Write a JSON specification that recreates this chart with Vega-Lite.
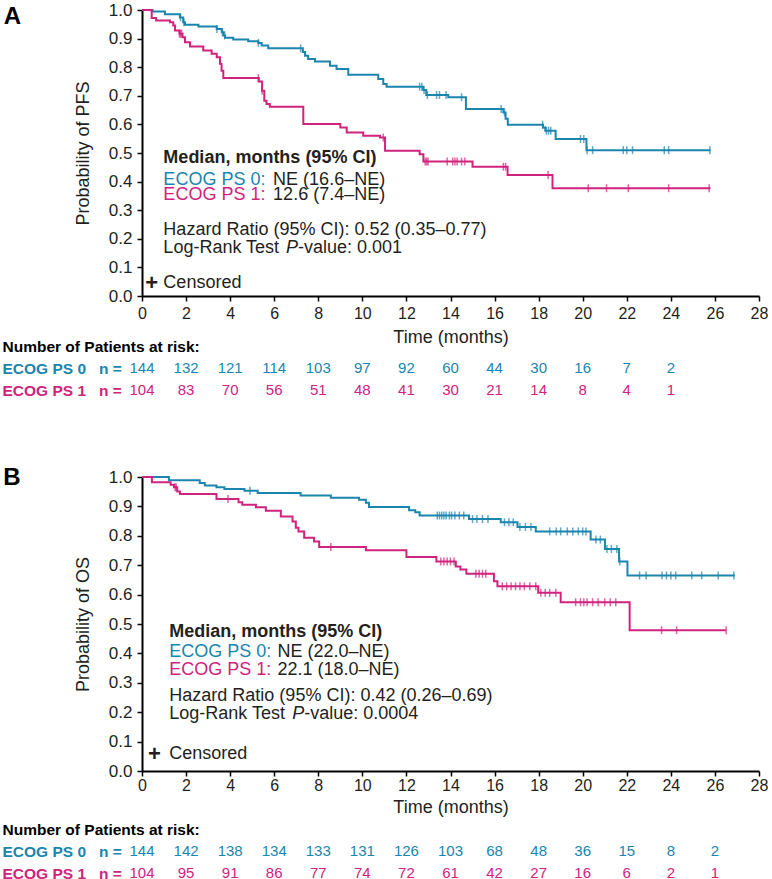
{
  "$schema": "https://vega.github.io/schema/vega-lite/v6.json",
  "background": "white",
  "padding": {"left": 2, "top": 1, "right": 5, "bottom": 0},
  "config": {"view": {"stroke": null}, "font": "Liberation Sans"},
  "datasets": {
    "pfs": [
      {"g":"ECOG PS 0","t":0,"s":1},{"g":"ECOG PS 0","t":0.48,"s":0.995},{"g":"ECOG PS 0","t":1.04,"s":0.985},{"g":"ECOG PS 0","t":1.72,"s":0.974},{"g":"ECOG PS 0","t":1.87,"s":0.957},{"g":"ECOG PS 0","t":1.95,"s":0.948},{"g":"ECOG PS 0","t":2.56,"s":0.942},{"g":"ECOG PS 0","t":3.39,"s":0.934},{"g":"ECOG PS 0","t":3.62,"s":0.922},{"g":"ECOG PS 0","t":3.7,"s":0.911},{"g":"ECOG PS 0","t":3.77,"s":0.903},{"g":"ECOG PS 0","t":4.14,"s":0.897},{"g":"ECOG PS 0","t":4.82,"s":0.891},{"g":"ECOG PS 0","t":5.28,"s":0.885},{"g":"ECOG PS 0","t":5.43,"s":0.876},{"g":"ECOG PS 0","t":5.73,"s":0.866},{"g":"ECOG PS 0","t":7.3,"s":0.853},{"g":"ECOG PS 0","t":7.4,"s":0.84},{"g":"ECOG PS 0","t":7.54,"s":0.829},{"g":"ECOG PS 0","t":7.85,"s":0.82},{"g":"ECOG PS 0","t":8.53,"s":0.805},{"g":"ECOG PS 0","t":8.83,"s":0.794},{"g":"ECOG PS 0","t":9.36,"s":0.774},{"g":"ECOG PS 0","t":10.72,"s":0.759},{"g":"ECOG PS 0","t":10.95,"s":0.741},{"g":"ECOG PS 0","t":11.1,"s":0.732},{"g":"ECOG PS 0","t":12.76,"s":0.72},{"g":"ECOG PS 0","t":12.9,"s":0.703},{"g":"ECOG PS 0","t":13.9,"s":0.695},{"g":"ECOG PS 0","t":14.7,"s":0.654},{"g":"ECOG PS 0","t":16.4,"s":0.642},{"g":"ECOG PS 0","t":16.5,"s":0.62},{"g":"ECOG PS 0","t":16.6,"s":0.599},{"g":"ECOG PS 0","t":18.2,"s":0.589},{"g":"ECOG PS 0","t":18.3,"s":0.578},{"g":"ECOG PS 0","t":18.77,"s":0.549},{"g":"ECOG PS 0","t":20.17,"s":0.51},{"g":"ECOG PS 0","t":25.8,"s":0.51},
      {"g":"ECOG PS 1","t":0,"s":1},{"g":"ECOG PS 1","t":0.44,"s":0.972},{"g":"ECOG PS 1","t":0.64,"s":0.963},{"g":"ECOG PS 1","t":1.27,"s":0.957},{"g":"ECOG PS 1","t":1.42,"s":0.946},{"g":"ECOG PS 1","t":1.5,"s":0.928},{"g":"ECOG PS 1","t":1.7,"s":0.917},{"g":"ECOG PS 1","t":1.84,"s":0.905},{"g":"ECOG PS 1","t":1.95,"s":0.887},{"g":"ECOG PS 1","t":2.18,"s":0.872},{"g":"ECOG PS 1","t":2.78,"s":0.858},{"g":"ECOG PS 1","t":3.16,"s":0.847},{"g":"ECOG PS 1","t":3.39,"s":0.835},{"g":"ECOG PS 1","t":3.54,"s":0.812},{"g":"ECOG PS 1","t":3.61,"s":0.788},{"g":"ECOG PS 1","t":3.69,"s":0.762},{"g":"ECOG PS 1","t":5.3,"s":0.75},{"g":"ECOG PS 1","t":5.45,"s":0.718},{"g":"ECOG PS 1","t":5.55,"s":0.683},{"g":"ECOG PS 1","t":5.65,"s":0.671},{"g":"ECOG PS 1","t":5.8,"s":0.662},{"g":"ECOG PS 1","t":7.32,"s":0.601},{"g":"ECOG PS 1","t":9.0,"s":0.589},{"g":"ECOG PS 1","t":9.29,"s":0.572},{"g":"ECOG PS 1","t":10.04,"s":0.56},{"g":"ECOG PS 1","t":10.8,"s":0.554},{"g":"ECOG PS 1","t":11.03,"s":0.508},{"g":"ECOG PS 1","t":12.6,"s":0.496},{"g":"ECOG PS 1","t":12.77,"s":0.47},{"g":"ECOG PS 1","t":15.0,"s":0.452},{"g":"ECOG PS 1","t":16.59,"s":0.423},{"g":"ECOG PS 1","t":18.63,"s":0.377},{"g":"ECOG PS 1","t":25.8,"s":0.377}
    ],
    "pfs_cens": [
      {"g":"ECOG PS 0","t":1.75,"s":0.974},{"g":"ECOG PS 0","t":1.9,"s":0.957},{"g":"ECOG PS 0","t":3.4,"s":0.934},{"g":"ECOG PS 0","t":3.65,"s":0.922},{"g":"ECOG PS 0","t":3.75,"s":0.911},{"g":"ECOG PS 0","t":5.28,"s":0.885},{"g":"ECOG PS 0","t":7.2,"s":0.866},{"g":"ECOG PS 0","t":12.6,"s":0.732},{"g":"ECOG PS 0","t":12.7,"s":0.732},{"g":"ECOG PS 0","t":12.8,"s":0.72},{"g":"ECOG PS 0","t":12.95,"s":0.703},{"g":"ECOG PS 0","t":13.37,"s":0.703},{"g":"ECOG PS 0","t":13.5,"s":0.703},{"g":"ECOG PS 0","t":13.8,"s":0.703},{"g":"ECOG PS 0","t":14.5,"s":0.695},{"g":"ECOG PS 0","t":16.3,"s":0.654},{"g":"ECOG PS 0","t":16.45,"s":0.642},{"g":"ECOG PS 0","t":18.18,"s":0.599},{"g":"ECOG PS 0","t":18.35,"s":0.578},{"g":"ECOG PS 0","t":18.45,"s":0.578},{"g":"ECOG PS 0","t":18.55,"s":0.578},{"g":"ECOG PS 0","t":19.9,"s":0.549},{"g":"ECOG PS 0","t":20.05,"s":0.549},{"g":"ECOG PS 0","t":20.2,"s":0.51},{"g":"ECOG PS 0","t":20.45,"s":0.51},{"g":"ECOG PS 0","t":21.84,"s":0.51},{"g":"ECOG PS 0","t":22.0,"s":0.51},{"g":"ECOG PS 0","t":22.26,"s":0.51},{"g":"ECOG PS 0","t":23.7,"s":0.51},{"g":"ECOG PS 0","t":23.9,"s":0.51},{"g":"ECOG PS 0","t":25.77,"s":0.51},
      {"g":"ECOG PS 1","t":1.7,"s":0.917},{"g":"ECOG PS 1","t":1.75,"s":0.917},{"g":"ECOG PS 1","t":1.8,"s":0.917},{"g":"ECOG PS 1","t":5.28,"s":0.762},{"g":"ECOG PS 1","t":5.45,"s":0.718},{"g":"ECOG PS 1","t":10.95,"s":0.554},{"g":"ECOG PS 1","t":12.85,"s":0.47},{"g":"ECOG PS 1","t":12.92,"s":0.47},{"g":"ECOG PS 1","t":12.98,"s":0.47},{"g":"ECOG PS 1","t":13.85,"s":0.47},{"g":"ECOG PS 1","t":14.1,"s":0.47},{"g":"ECOG PS 1","t":14.2,"s":0.47},{"g":"ECOG PS 1","t":14.3,"s":0.47},{"g":"ECOG PS 1","t":14.5,"s":0.47},{"g":"ECOG PS 1","t":14.65,"s":0.47},{"g":"ECOG PS 1","t":16.4,"s":0.452},{"g":"ECOG PS 1","t":16.5,"s":0.452},{"g":"ECOG PS 1","t":18.43,"s":0.423},{"g":"ECOG PS 1","t":20.25,"s":0.377},{"g":"ECOG PS 1","t":21.08,"s":0.377},{"g":"ECOG PS 1","t":22.07,"s":0.377},{"g":"ECOG PS 1","t":23.9,"s":0.377},{"g":"ECOG PS 1","t":25.74,"s":0.377}
    ],
    "os": [
      {"g":"ECOG PS 0","t":0,"s":1},{"g":"ECOG PS 0","t":1.22,"s":0.989},{"g":"ECOG PS 0","t":2.62,"s":0.98},{"g":"ECOG PS 0","t":2.85,"s":0.971},{"g":"ECOG PS 0","t":3.38,"s":0.965},{"g":"ECOG PS 0","t":3.74,"s":0.959},{"g":"ECOG PS 0","t":4.65,"s":0.953},{"g":"ECOG PS 0","t":5.25,"s":0.946},{"g":"ECOG PS 0","t":7.2,"s":0.937},{"g":"ECOG PS 0","t":8.57,"s":0.929},{"g":"ECOG PS 0","t":9.85,"s":0.923},{"g":"ECOG PS 0","t":10.16,"s":0.912},{"g":"ECOG PS 0","t":10.3,"s":0.898},{"g":"ECOG PS 0","t":12.12,"s":0.887},{"g":"ECOG PS 0","t":12.4,"s":0.88},{"g":"ECOG PS 0","t":12.6,"s":0.869},{"g":"ECOG PS 0","t":14.84,"s":0.857},{"g":"ECOG PS 0","t":16.28,"s":0.846},{"g":"ECOG PS 0","t":17.04,"s":0.83},{"g":"ECOG PS 0","t":17.87,"s":0.815},{"g":"ECOG PS 0","t":20.36,"s":0.787},{"g":"ECOG PS 0","t":21.01,"s":0.755},{"g":"ECOG PS 0","t":21.65,"s":0.713},{"g":"ECOG PS 0","t":22.03,"s":0.665},{"g":"ECOG PS 0","t":26.9,"s":0.665},
      {"g":"ECOG PS 1","t":0,"s":1},{"g":"ECOG PS 1","t":0.45,"s":0.982},{"g":"ECOG PS 1","t":1.3,"s":0.974},{"g":"ECOG PS 1","t":1.45,"s":0.965},{"g":"ECOG PS 1","t":1.6,"s":0.951},{"g":"ECOG PS 1","t":1.72,"s":0.942},{"g":"ECOG PS 1","t":3.38,"s":0.925},{"g":"ECOG PS 1","t":4.38,"s":0.914},{"g":"ECOG PS 1","t":4.55,"s":0.906},{"g":"ECOG PS 1","t":5.17,"s":0.897},{"g":"ECOG PS 1","t":5.62,"s":0.885},{"g":"ECOG PS 1","t":6.3,"s":0.866},{"g":"ECOG PS 1","t":6.83,"s":0.849},{"g":"ECOG PS 1","t":6.98,"s":0.827},{"g":"ECOG PS 1","t":7.1,"s":0.815},{"g":"ECOG PS 1","t":7.36,"s":0.793},{"g":"ECOG PS 1","t":7.81,"s":0.781},{"g":"ECOG PS 1","t":8.04,"s":0.762},{"g":"ECOG PS 1","t":10.16,"s":0.751},{"g":"ECOG PS 1","t":12.0,"s":0.728},{"g":"ECOG PS 1","t":13.36,"s":0.713},{"g":"ECOG PS 1","t":14.24,"s":0.696},{"g":"ECOG PS 1","t":14.45,"s":0.685},{"g":"ECOG PS 1","t":14.72,"s":0.671},{"g":"ECOG PS 1","t":15.97,"s":0.645},{"g":"ECOG PS 1","t":16.13,"s":0.628},{"g":"ECOG PS 1","t":17.98,"s":0.606},{"g":"ECOG PS 1","t":19.0,"s":0.574},{"g":"ECOG PS 1","t":22.13,"s":0.479},{"g":"ECOG PS 1","t":26.5,"s":0.479}
    ],
    "os_cens": [
      {"g":"ECOG PS 0","t":4.9,"s":0.953},{"g":"ECOG PS 0","t":13.4,"s":0.869},{"g":"ECOG PS 0","t":13.5,"s":0.869},{"g":"ECOG PS 0","t":13.6,"s":0.869},{"g":"ECOG PS 0","t":13.7,"s":0.869},{"g":"ECOG PS 0","t":13.8,"s":0.869},{"g":"ECOG PS 0","t":13.95,"s":0.869},{"g":"ECOG PS 0","t":14.05,"s":0.869},{"g":"ECOG PS 0","t":14.2,"s":0.869},{"g":"ECOG PS 0","t":14.4,"s":0.869},{"g":"ECOG PS 0","t":14.6,"s":0.869},{"g":"ECOG PS 0","t":15.0,"s":0.857},{"g":"ECOG PS 0","t":15.2,"s":0.857},{"g":"ECOG PS 0","t":15.45,"s":0.857},{"g":"ECOG PS 0","t":15.7,"s":0.857},{"g":"ECOG PS 0","t":16.45,"s":0.846},{"g":"ECOG PS 0","t":16.65,"s":0.846},{"g":"ECOG PS 0","t":16.85,"s":0.846},{"g":"ECOG PS 0","t":17.15,"s":0.83},{"g":"ECOG PS 0","t":17.4,"s":0.83},{"g":"ECOG PS 0","t":17.65,"s":0.83},{"g":"ECOG PS 0","t":18.5,"s":0.815},{"g":"ECOG PS 0","t":18.8,"s":0.815},{"g":"ECOG PS 0","t":19.0,"s":0.815},{"g":"ECOG PS 0","t":19.3,"s":0.815},{"g":"ECOG PS 0","t":19.55,"s":0.815},{"g":"ECOG PS 0","t":19.8,"s":0.815},{"g":"ECOG PS 0","t":20.0,"s":0.815},{"g":"ECOG PS 0","t":20.15,"s":0.815},{"g":"ECOG PS 0","t":20.6,"s":0.787},{"g":"ECOG PS 0","t":20.8,"s":0.787},{"g":"ECOG PS 0","t":21.1,"s":0.755},{"g":"ECOG PS 0","t":21.3,"s":0.755},{"g":"ECOG PS 0","t":21.55,"s":0.755},{"g":"ECOG PS 0","t":21.68,"s":0.713},{"g":"ECOG PS 0","t":22.58,"s":0.665},{"g":"ECOG PS 0","t":22.88,"s":0.665},{"g":"ECOG PS 0","t":23.6,"s":0.665},{"g":"ECOG PS 0","t":23.8,"s":0.665},{"g":"ECOG PS 0","t":24.0,"s":0.665},{"g":"ECOG PS 0","t":24.22,"s":0.665},{"g":"ECOG PS 0","t":24.95,"s":0.665},{"g":"ECOG PS 0","t":25.4,"s":0.665},{"g":"ECOG PS 0","t":26.15,"s":0.665},{"g":"ECOG PS 0","t":26.86,"s":0.665},
      {"g":"ECOG PS 1","t":1.5,"s":0.965},{"g":"ECOG PS 1","t":1.55,"s":0.965},{"g":"ECOG PS 1","t":3.9,"s":0.925},{"g":"ECOG PS 1","t":8.57,"s":0.762},{"g":"ECOG PS 1","t":13.56,"s":0.713},{"g":"ECOG PS 1","t":13.7,"s":0.713},{"g":"ECOG PS 1","t":13.85,"s":0.713},{"g":"ECOG PS 1","t":14.0,"s":0.713},{"g":"ECOG PS 1","t":14.16,"s":0.713},{"g":"ECOG PS 1","t":15.15,"s":0.671},{"g":"ECOG PS 1","t":15.3,"s":0.671},{"g":"ECOG PS 1","t":15.45,"s":0.671},{"g":"ECOG PS 1","t":15.6,"s":0.671},{"g":"ECOG PS 1","t":16.35,"s":0.628},{"g":"ECOG PS 1","t":16.55,"s":0.628},{"g":"ECOG PS 1","t":16.75,"s":0.628},{"g":"ECOG PS 1","t":16.95,"s":0.628},{"g":"ECOG PS 1","t":17.15,"s":0.628},{"g":"ECOG PS 1","t":17.35,"s":0.628},{"g":"ECOG PS 1","t":17.6,"s":0.628},{"g":"ECOG PS 1","t":17.87,"s":0.628},{"g":"ECOG PS 1","t":18.1,"s":0.606},{"g":"ECOG PS 1","t":18.3,"s":0.606},{"g":"ECOG PS 1","t":18.5,"s":0.606},{"g":"ECOG PS 1","t":18.78,"s":0.606},{"g":"ECOG PS 1","t":19.68,"s":0.574},{"g":"ECOG PS 1","t":19.9,"s":0.574},{"g":"ECOG PS 1","t":20.05,"s":0.574},{"g":"ECOG PS 1","t":20.2,"s":0.574},{"g":"ECOG PS 1","t":20.45,"s":0.574},{"g":"ECOG PS 1","t":20.7,"s":0.574},{"g":"ECOG PS 1","t":21.0,"s":0.574},{"g":"ECOG PS 1","t":21.25,"s":0.574},{"g":"ECOG PS 1","t":21.5,"s":0.574},{"g":"ECOG PS 1","t":23.58,"s":0.479},{"g":"ECOG PS 1","t":24.26,"s":0.479},{"g":"ECOG PS 1","t":26.51,"s":0.479}
    ],
    "risk_pfs": [
      {"g":"ECOG PS 0","t":0,"n":144},{"g":"ECOG PS 0","t":2,"n":132},{"g":"ECOG PS 0","t":4,"n":121},{"g":"ECOG PS 0","t":6,"n":114},{"g":"ECOG PS 0","t":8,"n":103},{"g":"ECOG PS 0","t":10,"n":97},{"g":"ECOG PS 0","t":12,"n":92},{"g":"ECOG PS 0","t":14,"n":60},{"g":"ECOG PS 0","t":16,"n":44},{"g":"ECOG PS 0","t":18,"n":30},{"g":"ECOG PS 0","t":20,"n":16},{"g":"ECOG PS 0","t":22,"n":7},{"g":"ECOG PS 0","t":24,"n":2},
      {"g":"ECOG PS 1","t":0,"n":104},{"g":"ECOG PS 1","t":2,"n":83},{"g":"ECOG PS 1","t":4,"n":70},{"g":"ECOG PS 1","t":6,"n":56},{"g":"ECOG PS 1","t":8,"n":51},{"g":"ECOG PS 1","t":10,"n":48},{"g":"ECOG PS 1","t":12,"n":41},{"g":"ECOG PS 1","t":14,"n":30},{"g":"ECOG PS 1","t":16,"n":21},{"g":"ECOG PS 1","t":18,"n":14},{"g":"ECOG PS 1","t":20,"n":8},{"g":"ECOG PS 1","t":22,"n":4},{"g":"ECOG PS 1","t":24,"n":1}
    ],
    "risk_os": [
      {"g":"ECOG PS 0","t":0,"n":144},{"g":"ECOG PS 0","t":2,"n":142},{"g":"ECOG PS 0","t":4,"n":138},{"g":"ECOG PS 0","t":6,"n":134},{"g":"ECOG PS 0","t":8,"n":133},{"g":"ECOG PS 0","t":10,"n":131},{"g":"ECOG PS 0","t":12,"n":126},{"g":"ECOG PS 0","t":14,"n":103},{"g":"ECOG PS 0","t":16,"n":68},{"g":"ECOG PS 0","t":18,"n":48},{"g":"ECOG PS 0","t":20,"n":36},{"g":"ECOG PS 0","t":22,"n":15},{"g":"ECOG PS 0","t":24,"n":8},{"g":"ECOG PS 0","t":26,"n":2},
      {"g":"ECOG PS 1","t":0,"n":104},{"g":"ECOG PS 1","t":2,"n":95},{"g":"ECOG PS 1","t":4,"n":91},{"g":"ECOG PS 1","t":6,"n":86},{"g":"ECOG PS 1","t":8,"n":77},{"g":"ECOG PS 1","t":10,"n":74},{"g":"ECOG PS 1","t":12,"n":72},{"g":"ECOG PS 1","t":14,"n":61},{"g":"ECOG PS 1","t":16,"n":42},{"g":"ECOG PS 1","t":18,"n":27},{"g":"ECOG PS 1","t":20,"n":16},{"g":"ECOG PS 1","t":22,"n":6},{"g":"ECOG PS 1","t":24,"n":2},{"g":"ECOG PS 1","t":26,"n":1}
    ]
  },
  "spacing": 64,
  "vconcat": [
    {
      "spacing": 7,
      "vconcat": [
        {
          "width": 617,
          "height": 286,
          "resolve": {"axis": {"x": "independent", "y": "independent"}},
          "layer": [
            {
              "data": {"name": "pfs"},
              "mark": {"type": "line", "interpolate": "step-after", "strokeWidth": 2},
              "encoding": {
                "x": {"field": "t", "type": "quantitative", "scale": {"domain": [0, 28], "nice": false},
                  "axis": {"values": [0,2,4,6,8,10,12,14,16,18,20,22,24,26,28], "title": null, "labelFontSize": 16, "labelColor": "#231f20", "labelPadding": 4, "labelFlush": false, "labelOverlap": false, "tickSize": 5, "tickWidth": 1.5, "tickColor": "#000", "domainColor": "#000", "domainWidth": 2, "grid": false}},
                "y": {"field": "s", "type": "quantitative", "scale": {"domain": [0, 1], "nice": false},
                  "axis": {"values": [0,0.1,0.2,0.3,0.4,0.5,0.6,0.7,0.8,0.9,1], "format": ".1f", "title": "Probability of PFS", "titleFontSize": 18, "titleFontWeight": "normal", "titleColor": "#231f20", "titlePadding": 16, "labelFontSize": 17, "labelColor": "#231f20", "labelPadding": 5, "labelFlush": false, "labelOverlap": false, "tickSize": 5, "tickWidth": 1.5, "tickColor": "#000", "domainColor": "#000", "domainWidth": 2, "grid": false}},
                "color": {"field": "g", "type": "nominal", "scale": {"domain": ["ECOG PS 0", "ECOG PS 1"], "range": ["#1b85ae", "#d0237e"]}, "legend": null}
              }
            },
            {
              "data": {"name": "pfs_cens"},
              "mark": {"type": "tick", "orient": "vertical", "size": 8, "thickness": 1.5},
              "encoding": {
                "x": {"field": "t", "type": "quantitative", "axis": null},
                "y": {"field": "s", "type": "quantitative", "axis": null},
                "color": {"field": "g", "type": "nominal", "legend": null}
              }
            },
            {"data": {"values": [{}]}, "mark": {"type": "text", "text": "A", "fontSize": 24, "fontWeight": "bold", "color": "#000", "align": "center", "baseline": "middle"}, "encoding": {"x": {"datum": -5.88, "axis": null}, "y": {"datum": 0.977, "axis": null}}},
            {"data": {"values": [{}]}, "mark": {"type": "text", "text": "Median, months (95% CI)", "fontSize": 18, "fontWeight": "bold", "color": "#231f20", "align": "left", "baseline": "middle"}, "encoding": {"x": {"datum": 0.97, "axis": null}, "y": {"datum": 0.482, "axis": null}}},
            {"data": {"values": [{}]}, "mark": {"type": "text", "text": "ECOG PS 0:", "fontSize": 18, "color": "#1b85ae", "align": "left", "baseline": "middle"}, "encoding": {"x": {"datum": 0.97, "axis": null}, "y": {"datum": 0.406, "axis": null}}},
            {"data": {"values": [{}]}, "mark": {"type": "text", "text": "NE (16.6–NE)", "fontSize": 18, "color": "#231f20", "align": "left", "baseline": "middle"}, "encoding": {"x": {"datum": 5.95, "axis": null}, "y": {"datum": 0.406, "axis": null}}},
            {"data": {"values": [{}]}, "mark": {"type": "text", "text": "ECOG PS 1:", "fontSize": 18, "color": "#d0237e", "align": "left", "baseline": "middle"}, "encoding": {"x": {"datum": 0.97, "axis": null}, "y": {"datum": 0.353, "axis": null}}},
            {"data": {"values": [{}]}, "mark": {"type": "text", "text": "12.6 (7.4–NE)", "fontSize": 18, "color": "#231f20", "align": "left", "baseline": "middle"}, "encoding": {"x": {"datum": 5.95, "axis": null}, "y": {"datum": 0.353, "axis": null}}},
            {"data": {"values": [{}]}, "mark": {"type": "text", "text": "Hazard Ratio (95% CI): 0.52 (0.35–0.77)", "fontSize": 18, "color": "#231f20", "align": "left", "baseline": "middle"}, "encoding": {"x": {"datum": 0.97, "axis": null}, "y": {"datum": 0.23, "axis": null}}},
            {"data": {"values": [{}]}, "mark": {"type": "text", "text": "Log-Rank Test", "fontSize": 18, "color": "#231f20", "align": "left", "baseline": "middle"}, "encoding": {"x": {"datum": 0.97, "axis": null}, "y": {"datum": 0.169, "axis": null}}},
            {"data": {"values": [{}]}, "mark": {"type": "text", "text": "P", "fontSize": 18, "fontStyle": "italic", "color": "#231f20", "align": "left", "baseline": "middle"}, "encoding": {"x": {"datum": 6.53, "axis": null}, "y": {"datum": 0.169, "axis": null}}},
            {"data": {"values": [{}]}, "mark": {"type": "text", "text": "-value: 0.001", "fontSize": 18, "color": "#231f20", "align": "left", "baseline": "middle"}, "encoding": {"x": {"datum": 7.08, "axis": null}, "y": {"datum": 0.169, "axis": null}}},
            {"data": {"values": [{}]}, "mark": {"type": "text", "text": "+", "fontSize": 22, "fontWeight": "bold", "color": "#231f20", "align": "center", "baseline": "middle"}, "encoding": {"x": {"datum": 0.44, "axis": null}, "y": {"datum": 0.047, "axis": null}}},
            {"data": {"values": [{}]}, "mark": {"type": "text", "text": "Censored", "fontSize": 18, "color": "#231f20", "align": "left", "baseline": "middle"}, "encoding": {"x": {"datum": 0.97, "axis": null}, "y": {"datum": 0.047, "axis": null}}}
          ]
        },
        {
          "width": 617,
          "height": 66,
          "data": {"name": "risk_pfs"},
          "mark": {"type": "text", "fontSize": 15, "baseline": "middle", "align": "center"},
          "encoding": {
            "x": {"field": "t", "type": "quantitative", "scale": {"domain": [0, 28], "nice": false},
              "axis": {"orient": "top", "domain": false, "ticks": false, "labels": false, "grid": false, "title": "Time (months)", "titleFontSize": 18, "titleFontWeight": "normal", "titleColor": "#231f20", "titlePadding": -11}},
            "y": {"field": "g", "type": "nominal", "scale": {"domain": ["hdr", "ECOG PS 0", "ECOG PS 1"], "paddingInner": 0, "paddingOuter": 0},
              "axis": {"title": null, "domain": false, "ticks": false, "tickSize": 0, "labelAlign": "left", "labelPadding": 140, "labelFontSize": 15.5, "labelFontWeight": "bold", "labelLimit": 400,
                "labelExpr": "datum.value == 'hdr' ? 'Number of Patients at risk:' : datum.value + '\u00a0\u00a0\u00a0n ='",
                "labelColor": {"condition": [{"test": "datum.value == 'ECOG PS 0'", "value": "#1b85ae"}, {"test": "datum.value == 'ECOG PS 1'", "value": "#d0237e"}], "value": "#000000"}}},
            "text": {"field": "n", "type": "quantitative"},
            "color": {"field": "g", "type": "nominal", "scale": {"domain": ["ECOG PS 0", "ECOG PS 1"], "range": ["#1b85ae", "#d0237e"]}, "legend": null}
          }
        }
      ]
    },
    {
      "spacing": 2,
      "vconcat": [
        {
          "width": 617,
          "height": 294,
          "resolve": {"axis": {"x": "independent", "y": "independent"}},
          "layer": [
            {
              "data": {"name": "os"},
              "mark": {"type": "line", "interpolate": "step-after", "strokeWidth": 2},
              "encoding": {
                "x": {"field": "t", "type": "quantitative", "scale": {"domain": [0, 28], "nice": false},
                  "axis": {"values": [0,2,4,6,8,10,12,14,16,18,20,22,24,26,28], "title": "Time (months)", "titleFontSize": 18, "titleFontWeight": "normal", "titleColor": "#231f20", "titlePadding": 5, "labelFontSize": 16, "labelColor": "#231f20", "labelPadding": 1, "labelFlush": false, "labelOverlap": false, "tickSize": 5, "tickWidth": 1.5, "tickColor": "#000", "domainColor": "#000", "domainWidth": 2, "grid": false}},
                "y": {"field": "s", "type": "quantitative", "scale": {"domain": [0, 1], "nice": false},
                  "axis": {"values": [0,0.1,0.2,0.3,0.4,0.5,0.6,0.7,0.8,0.9,1], "format": ".1f", "title": "Probability of OS", "titleFontSize": 18, "titleFontWeight": "normal", "titleColor": "#231f20", "titlePadding": 16, "labelFontSize": 17, "labelColor": "#231f20", "labelPadding": 5, "labelFlush": false, "labelOverlap": false, "tickSize": 5, "tickWidth": 1.5, "tickColor": "#000", "domainColor": "#000", "domainWidth": 2, "grid": false}},
                "color": {"field": "g", "type": "nominal", "scale": {"domain": ["ECOG PS 0", "ECOG PS 1"], "range": ["#1b85ae", "#d0237e"]}, "legend": null}
              }
            },
            {
              "data": {"name": "os_cens"},
              "mark": {"type": "tick", "orient": "vertical", "size": 8, "thickness": 1.5},
              "encoding": {
                "x": {"field": "t", "type": "quantitative", "axis": null},
                "y": {"field": "s", "type": "quantitative", "axis": null},
                "color": {"field": "g", "type": "nominal", "legend": null}
              }
            },
            {"data": {"values": [{}]}, "mark": {"type": "text", "text": "B", "fontSize": 24, "fontWeight": "bold", "color": "#000", "align": "center", "baseline": "middle"}, "encoding": {"x": {"datum": -5.9, "axis": null}, "y": {"datum": 0.997, "axis": null}}},
            {"data": {"values": [{}]}, "mark": {"type": "text", "text": "Median, months (95% CI)", "fontSize": 18, "fontWeight": "bold", "color": "#231f20", "align": "left", "baseline": "middle"}, "encoding": {"x": {"datum": 1.24, "axis": null}, "y": {"datum": 0.474, "axis": null}}},
            {"data": {"values": [{}]}, "mark": {"type": "text", "text": "ECOG PS 0:", "fontSize": 18, "color": "#1b85ae", "align": "left", "baseline": "middle"}, "encoding": {"x": {"datum": 1.24, "axis": null}, "y": {"datum": 0.404, "axis": null}}},
            {"data": {"values": [{}]}, "mark": {"type": "text", "text": "NE (22.0–NE)", "fontSize": 18, "color": "#231f20", "align": "left", "baseline": "middle"}, "encoding": {"x": {"datum": 6.15, "axis": null}, "y": {"datum": 0.404, "axis": null}}},
            {"data": {"values": [{}]}, "mark": {"type": "text", "text": "ECOG PS 1:", "fontSize": 18, "color": "#d0237e", "align": "left", "baseline": "middle"}, "encoding": {"x": {"datum": 1.24, "axis": null}, "y": {"datum": 0.345, "axis": null}}},
            {"data": {"values": [{}]}, "mark": {"type": "text", "text": "22.1 (18.0–NE)", "fontSize": 18, "color": "#231f20", "align": "left", "baseline": "middle"}, "encoding": {"x": {"datum": 6.15, "axis": null}, "y": {"datum": 0.345, "axis": null}}},
            {"data": {"values": [{}]}, "mark": {"type": "text", "text": "Hazard Ratio (95% CI): 0.42 (0.26–0.69)", "fontSize": 18, "color": "#231f20", "align": "left", "baseline": "middle"}, "encoding": {"x": {"datum": 1.24, "axis": null}, "y": {"datum": 0.255, "axis": null}}},
            {"data": {"values": [{}]}, "mark": {"type": "text", "text": "Log-Rank Test", "fontSize": 18, "color": "#231f20", "align": "left", "baseline": "middle"}, "encoding": {"x": {"datum": 1.24, "axis": null}, "y": {"datum": 0.193, "axis": null}}},
            {"data": {"values": [{}]}, "mark": {"type": "text", "text": "P", "fontSize": 18, "fontStyle": "italic", "color": "#231f20", "align": "left", "baseline": "middle"}, "encoding": {"x": {"datum": 6.82, "axis": null}, "y": {"datum": 0.193, "axis": null}}},
            {"data": {"values": [{}]}, "mark": {"type": "text", "text": "-value: 0.0004", "fontSize": 18, "color": "#231f20", "align": "left", "baseline": "middle"}, "encoding": {"x": {"datum": 7.36, "axis": null}, "y": {"datum": 0.193, "axis": null}}},
            {"data": {"values": [{}]}, "mark": {"type": "text", "text": "+", "fontSize": 22, "fontWeight": "bold", "color": "#231f20", "align": "center", "baseline": "middle"}, "encoding": {"x": {"datum": 0.56, "axis": null}, "y": {"datum": 0.057, "axis": null}}},
            {"data": {"values": [{}]}, "mark": {"type": "text", "text": "Censored", "fontSize": 18, "color": "#231f20", "align": "left", "baseline": "middle"}, "encoding": {"x": {"datum": 1.24, "axis": null}, "y": {"datum": 0.057, "axis": null}}}
          ]
        },
        {
          "width": 617,
          "height": 66,
          "data": {"name": "risk_os"},
          "mark": {"type": "text", "fontSize": 15, "baseline": "middle", "align": "center"},
          "encoding": {
            "x": {"field": "t", "type": "quantitative", "scale": {"domain": [0, 28], "nice": false}, "axis": null},
            "y": {"field": "g", "type": "nominal", "scale": {"domain": ["hdr", "ECOG PS 0", "ECOG PS 1"], "paddingInner": 0, "paddingOuter": 0},
              "axis": {"title": null, "domain": false, "ticks": false, "tickSize": 0, "labelAlign": "left", "labelPadding": 140, "labelFontSize": 15.5, "labelFontWeight": "bold", "labelLimit": 400,
                "labelExpr": "datum.value == 'hdr' ? 'Number of Patients at risk:' : datum.value + '\u00a0\u00a0\u00a0n ='",
                "labelColor": {"condition": [{"test": "datum.value == 'ECOG PS 0'", "value": "#1b85ae"}, {"test": "datum.value == 'ECOG PS 1'", "value": "#d0237e"}], "value": "#000000"}}},
            "text": {"field": "n", "type": "quantitative"},
            "color": {"field": "g", "type": "nominal", "scale": {"domain": ["ECOG PS 0", "ECOG PS 1"], "range": ["#1b85ae", "#d0237e"]}, "legend": null}
          }
        }
      ]
    }
  ]
}
